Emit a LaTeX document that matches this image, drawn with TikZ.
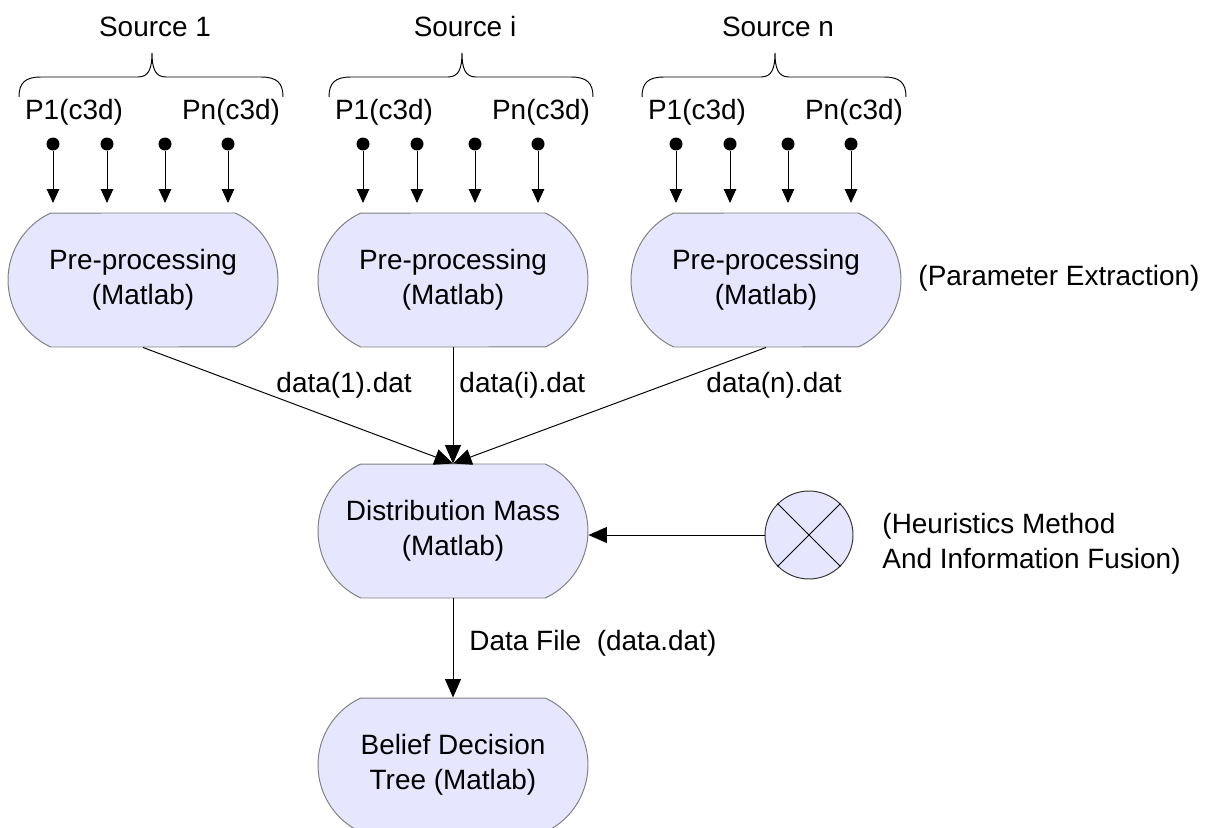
\documentclass[tikz,border=0pt]{standalone}
\usepackage{fontspec}
\setmainfont{Liberation Sans}
\usepackage{tikz}
\usetikzlibrary{shapes.misc, positioning, arrows.meta}

\definecolor{procfill}{HTML}{E6E6FF}
\definecolor{procline}{HTML}{7F7F7F}

\begin{document}
\begin{tikzpicture}[
    x=0.02cm, y=-0.02cm,
    line width=0.55pt,
    every node/.style={font=\fontsize{15.9}{19.8}\selectfont},
    process/.style={draw=procline, fill=procfill, rounded rectangle,
        rounded rectangle arc length=130, minimum width=5.4cm,
        minimum height=2.68cm, align=center, inner sep=0pt},
    param/.style={circle, fill=black, inner sep=0pt, minimum size=0.26cm},
    feed/.style={draw, -{Triangle[length=0.28cm, width=0.25cm]}},
    flow/.style={draw, -{Triangle[length=0.37cm, width=0.32cm]}},
    fusion/.style={circle, draw=black!80, fill=procfill, minimum size=1.76cm, inner sep=0pt},
    tag/.style={anchor=west, inner sep=0pt}
]
    \useasboundingbox (0,0) rectangle (1211,828);

    % one column per source
    \foreach \cx/\k/\srcname in {143/1/1, 453/2/i, 766/3/n} {
        \node[process] (pre\k) at (\cx,280) {Pre-processing\\(Matlab)};
        \node (src\k) at (\cx+12,27) {Source \srcname};
        \draw (\cx-124,97) .. controls (\cx-124,83) and (\cx-118,77) .. (\cx-102,77)
            -- (\cx-5,77) .. controls (\cx+6,77) and (\cx+9,68) .. (\cx+9,53)
            .. controls (\cx+9,68) and (\cx+12,77) .. (\cx+23,77)
            -- (\cx+118,77) .. controls (\cx+134,77) and (\cx+140,83) .. (\cx+140,97);
        \node (first\k) at (\cx-69,112) {P1(c3d)};
        \node (last\k) at (\cx+88,112) {Pn(c3d)};
        \coordinate (in\k) at (\cx,203);
        \foreach \dx [count=\j] in {-90,-36,22,85} {
            \node[param] (p\k\j) at (\cx+\dx,144) {};
            \draw[feed] (p\k\j) -- (p\k\j |- in\k);
        }
    }
    \node[tag] (extract) at (918,278) {(Parameter Extraction)};

    % fusion and decision
    \node[process] (mass) at (453,531) {Distribution Mass\\(Matlab)};
    \node[process] (tree) at (453,765) {Belief Decision\\Tree (Matlab)};
    \node[fusion] (fuse) at (809,535) {};
    \draw (fuse.north west) -- (fuse.south east);
    \draw (fuse.north east) -- (fuse.south west);
    \node[tag, align=left] (fusetext) at (882,544) {(Heuristics Method\\And Information Fusion)};

    \draw[flow] (pre1.south) -- (mass.north);
    \draw[flow] (pre2.south) -- (mass.north);
    \draw[flow] (pre3.south) -- (mass.north);
    \node[tag] (dat1) at (276,385) {data(1).dat};
    \node[tag] (dat2) at (459,385) {data(i).dat};
    \node[tag] (dat3) at (706,385) {data(n).dat};

    \draw[flow] (fuse.west) -- (fuse.west -| mass.east);
    \draw[flow] (mass.south) -- (tree.north);
    \node[tag] (datfile) at (469,643) {Data File~~(data.dat)};
\end{tikzpicture}
\end{document}
